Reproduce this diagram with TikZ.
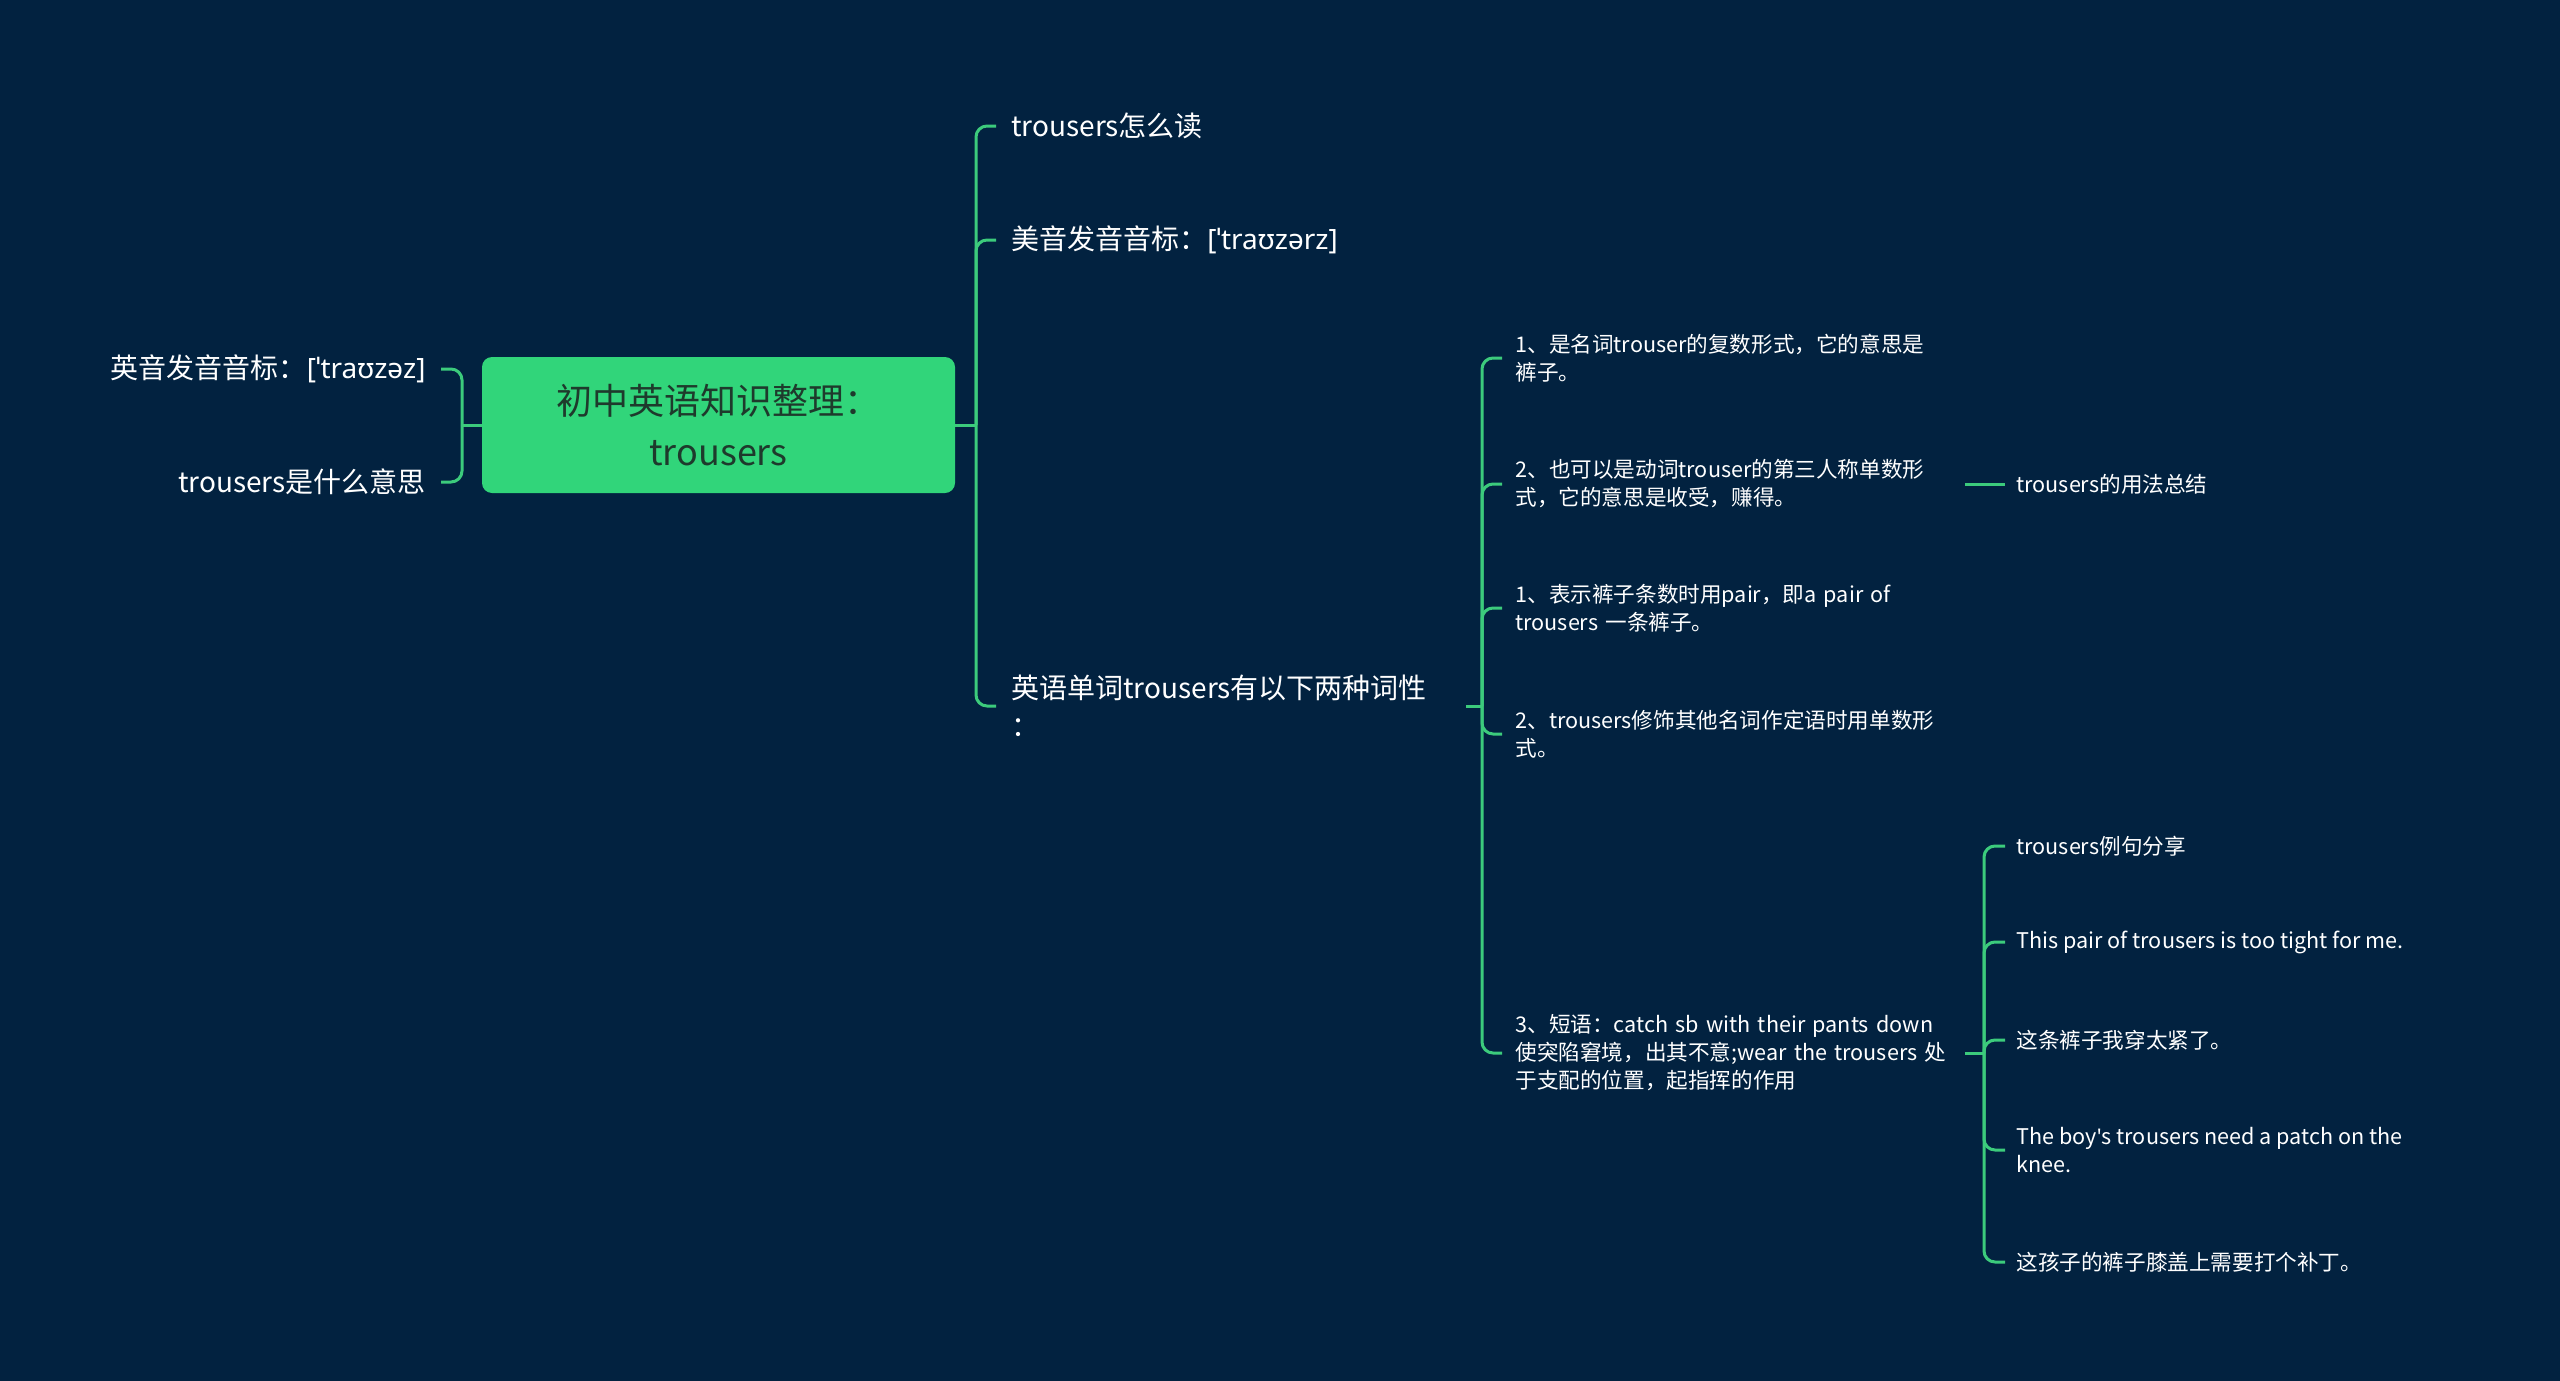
\documentclass[tikz,border=0pt]{standalone}
\usepackage{fontspec}
\usepackage{xcolor}
\usepackage{tikz}
\usetikzlibrary{positioning}
\setmainfont{Noto Sans CJK SC}
\newfontfamily\ipa{Noto Sans}
\definecolor{bgnavy}{HTML}{022240}
\definecolor{linkgreen}{HTML}{3CCB7C}
\definecolor{rootgreen}{HTML}{31D57A}
\definecolor{roottext}{HTML}{1E3A2C}

\begin{document}
\begin{tikzpicture}[
    x=0.5pt, y=-0.5pt,
    link/.style={draw=linkgreen, line width=1.5pt, rounded corners=5.5pt},
    rootbox/.style={rectangle, fill=rootgreen, rounded corners=5pt, text=roottext, align=center,
        minimum width=236.5pt, minimum height=68pt, font=\fontsize{18}{25.5}\selectfont},
    topic/.style={inner xsep=7.5pt, inner ysep=2pt, text=white, align=left, font=\fontsize{14}{19}\selectfont},
    subtopic/.style={inner xsep=6.5pt, inner ysep=2pt, text=white, align=left, text width=218pt,
        anchor=west, font=\fontsize{10.8}{14}\selectfont},
    leaf/.style={inner xsep=5.5pt, inner ysep=2pt, text=white, align=left,
        anchor=west, font=\fontsize{10.8}{14}\selectfont}
]
\fill[bgnavy] (0,0) rectangle (2560,1381);
\useasboundingbox (0,0) rectangle (2560,1381);

\node[rootbox] (root) at (718.5,425) {初中英语知识整理：\\trousers};

% left side
\node[topic, anchor=east] (ukSound) at (441,369) {英音发音音标：{\ipa[ˈtraʊzəz]}};
\node[topic, anchor=east] (meaning) at (441,482) {trousers是什么意思};

% right side
\node[topic, anchor=west] (howRead) at (996,126) {trousers怎么读};
\node[topic, anchor=west] (usSound) at (996,240) {美音发音音标：{\ipa[ˈtraʊzərz]}};
\node[topic, anchor=west, text width=219.5pt] (pos) at (996,706) {英语单词trousers有以下两种词性\\：};

\node[subtopic] (nounForm) at (1502,358) {1、是名词trouser的复数形式，它的意思是\\裤子。};
\node[subtopic] (verbForm) at (1502,484) {2、也可以是动词trouser的第三人称单数形\\式，它的意思是收受，赚得。};
\node[subtopic] (pairUse) at (1502,608) {1、表示裤子条数时用pair，即a pair of\\trousers 一条裤子。};
\node[subtopic] (attrUse) at (1502,734) {2、trousers修饰其他名词作定语时用单数形\\式。};
\node[subtopic] (phrase) at (1502,1053) {3、短语：catch sb with their pants down\\使突陷窘境，出其不意;wear the trousers 处\\于支配的位置，起指挥的作用};

\node[leaf] (summary) at (2005,484) {trousers的用法总结};

\node[leaf] (exTitle) at (2005,846) {trousers例句分享};
\node[leaf] (exTight) at (2005,942) {This pair of trousers is too tight for me.};
\node[leaf] (exTightCn) at (2005,1040) {这条裤子我穿太紧了。};
\node[leaf] (exPatch) at (2005,1150) {The boy{\ipa\char"0027}s trousers need a patch on the\\knee.};
\node[leaf] (exPatchCn) at (2005,1262) {这孩子的裤子膝盖上需要打个补丁。};

% connectors
\draw[link] (root.west) -- (462,425) coordinate (lj);
\draw[link] (lj) |- (ukSound.east);
\draw[link] (lj) |- (meaning.east);

\draw[link] (root.east) -- (976,425) coordinate (rj);
\foreach \n in {howRead, usSound, pos}
    \draw[link] (rj) |- (\n.west);

\draw[link] (pos.east) -- (1482,706) coordinate (pj);
\foreach \n in {nounForm, verbForm, pairUse, attrUse, phrase}
    \draw[link] (pj) |- (\n.west);

\draw[link] (verbForm.east) -- (summary.west);

\draw[link] (phrase.east) -- (1984,1053) coordinate (xj);
\foreach \n in {exTitle, exTight, exTightCn, exPatch, exPatchCn}
    \draw[link] (xj) |- (\n.west);
\end{tikzpicture}
\end{document}
